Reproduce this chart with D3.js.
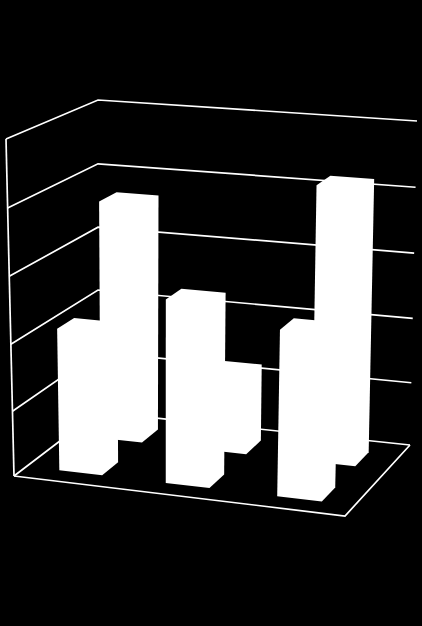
<!DOCTYPE html>
<html>
<head>
<meta charset="utf-8">
<script src="https://d3js.org/d3.v7.min.js"></script>
<style>
  html, body { margin: 0; padding: 0; background: #000; }
  svg { display: block; }
</style>
</head>
<body>
<svg id="chart" width="422" height="626"></svg>
<script>
// chart values
const categories = ['A', 'B', 'C']
const rows = ['front', 'back']
const frontValues = [2.16, 2.75, 2.47]
const backValues = [3.7, 1.22, 4.2]
const tickValues = [0, 1, 2, 3, 4, 5]

// box corners on screen: floor and top, front/back, left/right
const floorFL = [14, 476], floorFR = [345, 516], floorBR = [410, 445], floorBL = [98, 412]
const topFL = [6, 139], topFR = [355, 166], topBR = [417, 121], topBL = [98, 100]

const svg = d3.select('#chart')

let x = d3.scaleBand().domain(categories).range([0, 1]).paddingInner(.6).paddingOuter(.3)
let z = d3.scaleBand().domain(rows).range([0, 1]).paddingInner(.6).paddingOuter(.3)
let y = d3.scalePow().exponent(1.025).domain([0, 5]).range([0, 1])

let mix = (a, b, t) => [a[0] + (b[0] - a[0]) * t, a[1] + (b[1] - a[1]) * t]

// right hand side is nearer the viewer, so the middle of the floor slides left a bit
let warp = u => u - .01 * Math.sin(Math.PI * u) ** 3

// u across, v into the picture, value up
function project(u, v, value) {
    let w = warp(u)
    let floor = mix(mix(floorFL, floorFR, w), mix(floorBL, floorBR, w), v)
    let top = mix(mix(topFL, topFR, w), mix(topBL, topBR, w), v)
    return mix(floor, top, y(value))
}

let line = d3.line()

/*********************
    walls and floor
*********************/
let grid = svg.append('g')
    .attr('id', 'grid')
    .attr('fill', 'none')
    .attr('stroke', 'white')
    .attr('stroke-width', 1.7)

grid.selectAll('.tick')
    .data(tickValues)
    .join('path')
    .attr('class', 'tick')
    .attr('d', d => line([project(0, 0, d), project(0, 1, d), project(1, 1, d)]))

grid.append('path').attr('d', line([project(0, 0, 0), project(0, 0, 5)]))
grid.append('path').attr('d', line([project(0, 0, 0), project(1, 0, 0), project(1, 1, 0)]))

/*********************
    bars, back row first
*********************/
let bars = []
backValues.forEach((d, i) => bars.push({cat: categories[i], row: 'back', value: d}))
frontValues.forEach((d, i) => bars.push({cat: categories[i], row: 'front', value: d}))

// everything is plain white so only the outline of each box matters
function outline(d) {
    let u0 = x(d.cat), u1 = u0 + x.bandwidth()
    let v0 = z(d.row), v1 = v0 + z.bandwidth()
    let pts = []
    ;[u0, u1].forEach(u => [v0, v1].forEach(v => [0, d.value].forEach(h => pts.push(project(u, v, h)))))
    return d3.polygonHull(pts)
}

svg.append('g')
    .attr('id', 'bars')
    .selectAll('.bar')
    .data(bars)
    .join('polygon')
    .attr('class', 'bar')
    .attr('points', d => outline(d).join(' '))
    .attr('fill', 'white')
</script>
</body>
</html>
